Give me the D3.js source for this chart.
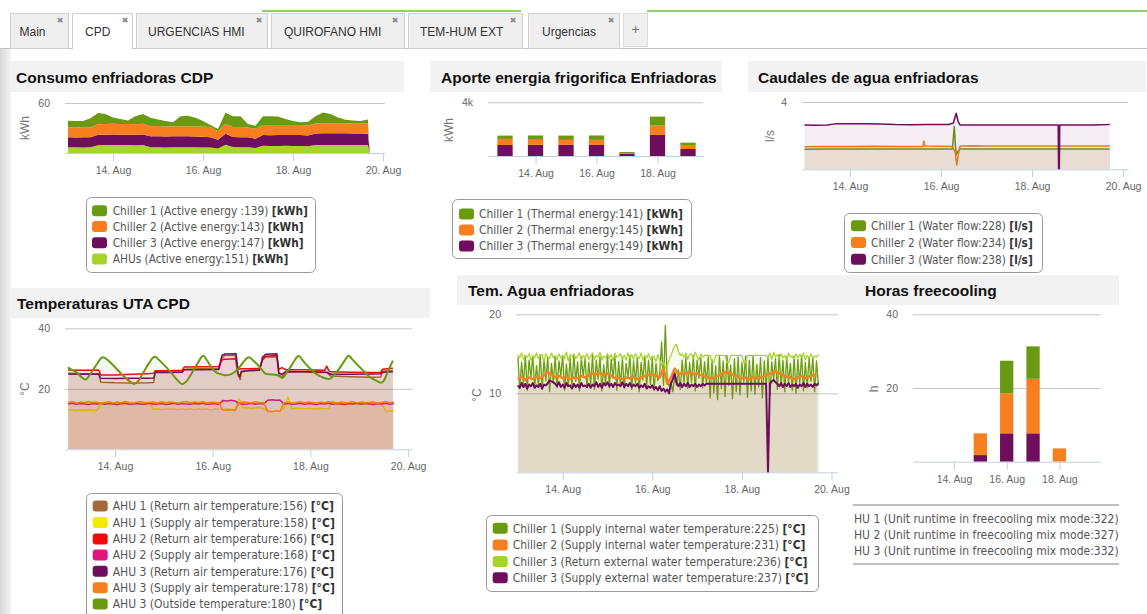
<!DOCTYPE html>
<html><head><meta charset="utf-8">
<script src="https://cdn.jsdelivr.net/npm/d3@7/dist/d3.min.js"></script>
<style>html,body{margin:0;padding:0;background:#fff;overflow:hidden}svg{display:block}</style>
</head><body>
<svg id="c" width="1147" height="614" xmlns="http://www.w3.org/2000/svg"></svg>
<script>
// ================= DATA =================
const tabNames = ["Main", "CPD", "URGENCIAS HMI", "QUIROFANO HMI", "TEM-HUM EXT", "Urgencias"];
const titles = ["Consumo enfriadoras CDP", "Aporte energia frigorifica Enfriadoras", "Caudales de agua enfriadoras",
                "Temperaturas UTA CPD", "Tem. Agua enfriadoras", "Horas freecooling"];
const tickHoursLong = [24, 72, 120, 168];   // 14, 16, 18, 20 Aug (hours after 13 Aug 00:00)
const tickHoursShort = [24, 72, 120];       // 14, 16, 18 Aug

// Consumo enfriadoras CDP (stacked area, kWh), hours after 13 Aug 00:00
const consumoHours = d3.range(0, 161, 4).concat([161, 168]);
const consumoAHUs = [6.8,6.9,6.7,7.0,9.4,9.6,9.7,9.5,9.6,9.4,9.5,6.9,6.8,6.7,6.8,6.9,7.0,6.8,6.7,6.6,5.5,10.0,7.2,7.0,6.9,6.0,8.6,8.4,8.5,8.6,8.4,8.5,8.0,9.5,9.7,9.6,9.5,9.6,9.7,9.5,9.6,0,0];
const consumoC3 = [12.0,11.7,12.2,12.0,12.4,12.4,12.5,12.4,12.4,12.4,12.6,13.1,13.4,13.2,13.2,13.2,13.2,13.0,12.9,12.4,10.5,13.0,12.0,12.0,11.9,11.0,13.0,13.0,13.2,13.0,13.1,13.1,13.0,13.9,14.1,14.0,14.2,14.0,13.8,13.9,13.6,0,0];
const consumoC2 = [12.0,12.1,11.9,12.0,12.8,12.7,12.9,12.8,12.7,12.8,12.9,12.0,12.1,11.9,12.0,12.1,12.0,11.9,12.1,12.0,10.0,12.2,12.0,12.1,11.9,12.0,12.0,12.1,11.9,12.0,12.1,12.0,12.0,12.1,11.9,12.0,12.1,12.0,11.9,12.0,12.1,0,0];
const consumoC1 = [8.0,7.8,7.5,10.6,13.4,12.0,7.4,6.1,4.4,9.4,11.9,10.4,7.8,6.5,4.8,11.9,12.6,10.6,6.8,2.6,2.8,13.0,12.8,13.0,4.0,3.8,10.4,10.6,10.3,7.2,4.9,3.2,4.6,8.6,13.0,11.2,6.7,4.4,3.7,3.0,4.8,0,0];
const consumoLabels = ["Chiller 1 (Active energy :139) ", "Chiller 2 (Active energy:143) ", "Chiller 3 (Active energy:147) ", "AHUs (Active energy:151) "];

// Aporte energia frigorifica (stacked columns, kWh), one per day 13..19 Aug
const aporteDays = [0, 24, 48, 72, 96, 120, 144];
const aporteC1 = [250, 320, 320, 330, 75, 670, 175];
const aporteC2 = [450, 380, 375, 380, 75, 700, 300];
const aporteC3 = [820, 830, 825, 820, 150, 1565, 520];
const aporteLabels = ["Chiller 1 (Thermal energy:141) ", "Chiller 2 (Thermal energy:145) ", "Chiller 3 (Thermal energy:149) "];

// Caudales de agua (l/s) [hour, value]
const flowC1 = [[0,1.19],[12,1.20],[24,1.21],[36,1.21],[48,1.21],[60,1.20],[72,1.21],[78,1.21],[79,2.54],[79.5,1.6],[80,0.85],[81,1.1],[82,1.21],[96,1.21],[110,1.20],[124,1.20],[134,1.20],[144,1.20],[161,1.20]];
const flowC2 = [[0,1.34],[12,1.36],[24,1.35],[36,1.37],[48,1.36],[60,1.36],[62.5,1.36],[63,1.68],[63.5,1.38],[72,1.37],[78,1.36],[79.5,1.0],[80.3,0.26],[81,0.8],[82,1.38],[88,1.40],[96,1.38],[110,1.38],[124,1.38],[134,1.38],[144,1.38],[152,1.38],[161,1.38]];
const flowC3 = [[0,2.63],[6,2.62],[12,2.64],[16,2.70],[24,2.71],[32,2.70],[40,2.69],[48,2.66],[56,2.65],[64,2.66],[72,2.67],[76,2.66],[78.5,2.75],[80,3.33],[81,2.85],[82,2.64],[90,2.63],[100,2.64],[112,2.63],[124,2.63],[133.8,2.63],[134,0],[134.4,0],[134.6,2.63],[144,2.63],[152,2.64],[160,2.66],[161,2.67]];
const flowLabels = ["Chiller 1 (Water flow:228) ", "Chiller 2 (Water flow:234) ", "Chiller 3 (Water flow:238) "];

// Temperaturas UTA CPD (°C)
const retAHU1 = [[1,25.1],[8,25.0],[16,25.0],[17,22.2],[24,22.0],[32,21.9],[40,22.0],[43,22.1],[43.8,25.9],[50,25.8],[57,25.9],[58,26.5],[66,26.6],[75,26.8],[76.5,30.0],[78,31.0],[83,31.0],[84.2,25.0],[85.5,23.0],[86,25.5],[90,26.2],[95,26.4],[96.5,29.5],[98,30.5],[103.5,30.6],[104.5,24.5],[106,24.0],[108,25.5],[115,25.6],[122,25.4],[128,25.4],[130,24.2],[140,24.0],[150,23.8],[154.5,23.9],[155.5,25.9],[160.5,26.0]];
const retAHU2 = [[1,26.2],[8,26.1],[16,26.2],[17,24.6],[24,24.6],[32,24.8],[40,25.0],[43,25.1],[43.8,26.0],[50,26.0],[57,26.1],[58,27.2],[66,27.3],[75,27.4],[76.5,29.5],[78,29.8],[83.5,29.9],[84.5,26.5],[86,26.6],[90,26.6],[95,26.8],[96.5,29.8],[98,30.8],[103.5,31.0],[104.5,26.4],[106,27.0],[108,26.3],[115,26.3],[122,26.2],[127,26.1],[128,27.5],[129,26.0],[130,25.6],[140,25.5],[150,25.4],[154.5,25.5],[155.5,26.5],[160.5,26.8]];
const retAHU3 = [[1,24.9],[8,24.8],[16,24.9],[17,23.5],[24,23.4],[32,23.5],[40,23.5],[43,23.6],[43.8,25.5],[50,25.4],[57,25.5],[58,26.3],[66,26.3],[75,26.4],[76.5,31.0],[78,31.5],[83.5,31.6],[84.5,25.0],[85.3,24.0],[86,25.8],[90,26.0],[95,26.1],[96.5,30.5],[98,31.4],[103.5,31.6],[104.5,25.2],[106,24.8],[108,25.7],[115,25.6],[122,25.6],[128,25.5],[130,24.8],[140,24.8],[150,24.9],[154.5,25.0],[155.5,25.5],[160.5,25.6]];
// supply temperatures, every 2 h starting 13 Aug 01:00
const supAHU1 = [12.9,13.1,12.8,13.0,12.9,13.1,13.0,12.8,15.0,15.2, 14.9,15.1,15.0,14.8,15.2,14.9,15.0,15.1,14.9,15.0, 15.1,13.2,13.4,13.1,13.3,13.2,13.4,13.1,13.3,13.2, 13.4,13.1,13.3,13.2,13.4,13.0,13.3,13.2,13.1,13.4, 13.2,13.3,16.8,13.7,13.8,13.6,13.7,13.8,13.5,12.6, 12.5,12.7,12.6,13.5,17.4,13.4,13.6,13.5,13.4,13.6, 13.5,13.3,13.6,13.4,13.5,15.9,14.9,15.1,15.0,14.9, 15.1,14.8,15.0,15.2,14.9,15.1,15.0,14.9,12.7,12.6,12.8];
const supAHU2 = [15.0,15.2,14.9,15.1,15.0,14.8,15.1,15.0,15.2,14.9, 15.1,15.0,14.8,15.1,15.2,14.9,15.0,15.1,14.9,15.0, 15.2,14.9,15.0,15.1,14.8,15.0,15.2,14.9,15.1,15.0, 14.9,15.1,15.0,15.2,14.9,15.0,15.1,14.8,16.1,16.0, 16.2,16.0,15.1,14.9,15.0,15.2,14.9,15.1,15.0,16.2, 16.4,16.2,16.3,15.0,15.1,14.9,15.0,15.2,14.9,15.1, 15.0,14.8,15.1,15.0,15.2,14.9,15.1,15.0,14.8,15.1, 15.0,15.2,14.9,15.1,15.0,14.8,15.1,15.0,15.2,14.9,15.1];
const supAHU3 = [15.5,15.7,15.3,15.6,15.4,15.8,15.5,15.6,15.2,15.5, 15.7,15.3,15.6,15.4,15.8,15.5,15.3,15.6,15.7,15.4, 15.5,15.6,15.3,15.7,15.4,15.6,15.5,15.3,15.6,15.8, 15.4,15.6,15.5,15.7,15.3,15.6,15.5,15.4,13.0,12.9, 13.1,12.8,15.4,15.6,15.5,15.3,15.7,15.4,15.5,12.6, 12.4,12.7,12.5,15.4,15.6,15.3,15.5,15.7,15.4,15.6, 15.5,15.3,15.6,15.4,15.7,15.5,15.3,15.6,15.4,15.5, 15.7,15.3,15.6,15.4,15.5,15.6,15.3,15.5,15.7,15.4,15.6];
const outsideAHU3 = [[0.8,27.1],[3,26.2],[5,25.5],[7,24.2],[9.5,23.0],[11,24.0],[13,26.0],[15.5,28.6],[17,30.0],[18,30.4],[19.5,30.0],[22,28.5],[24.5,26.8],[27,25.0],[30,23.2],[33.4,21.6],[35.5,22.6],[38,25.5],[41,28.8],[42.5,30.2],[43.7,30.6],[45.5,29.6],[48,28.0],[52,25.0],[54.5,23.0],[57,21.6],[59.5,22.8],[62,25.5],[65,28.9],[66.5,30.5],[67.4,30.9],[69,29.6],[71,27.5],[73,25.8],[75.7,24.9],[78,24.5],[80,24.6],[82.5,25.4],[85,27.0],[88,29.6],[89,30.2],[90,30.4],[91.5,29.6],[94,28.0],[96,26.4],[98,25.0],[100,24.8],[102,24.7],[104,24.4],[106.3,23.6],[108,25.0],[110,27.0],[112.5,29.7],[113.5,30.6],[114.2,30.9],[116,29.6],[118,28.0],[120.5,26.3],[123,24.8],[126,23.8],[129,23.2],[131,24.0],[134,26.5],[136.5,29.0],[138,30.5],[138.8,30.9],[140.5,29.8],[143,28.0],[146,26.0],[149,24.0],[152,22.8],[154.6,22.0],[156,22.6],[157,24.0],[158.5,26.4],[160.5,29.3]];
const tempLabels = ["AHU 1 (Return air temperature:156) ", "AHU 1 (Supply air temperature:158) ", "AHU 2 (Return air temperature:166) ",
                    "AHU 2 (Supply air temperature:168) ", "AHU 3 (Return air temperature:176) ", "AHU 3 (Supply air temperature:178) ", "AHU 3 (Outside temperature:180) "];

// Tem. Agua enfriadoras (°C), hourly from 13 Aug 00:00 (orange every 2 h)
const aguaC1 = [14.6,10.6,13.9,11.2,14.8,10.4,14.2,12.0,14.7,10.8,13.5,11.0,14.9,10.5,14.3,11.6,14.6,10.2,13.8,11.3,
 14.7,10.7,14.1,12.2,14.8,10.4,13.7,11.0,14.5,10.9,14.9,11.5,14.0,10.3,14.6,12.1,14.4,10.8,13.9,11.1,
 14.8,10.5,14.2,11.8,14.6,10.3,13.6,11.2,14.9,10.7,14.3,11.9,14.7,10.4,14.0,11.0,14.5,10.6,13.8,12.0,
 14.8,10.5,14.1,11.3,14.6,10.2,13.9,11.7,14.7,10.8,14.2,11.1,14.5,10.4,13.8,11.6,12.5,16.5,11.0,18.6,
 11.8,10.9,11.5,10.2,12.0,11.0,13.0,10.5,14.2,11.3,14.6,10.6,13.9,11.4,14.8,10.3,14.2,11.9,14.5,10.7,
 14.0,11.2,14.6,9.4,14.3,10.1,13.5,9.2,14.7,10.6,14.1,9.6,14.8,11.0,13.6,9.3,14.4,10.2,14.6,9.8,
 13.9,11.4,14.7,9.5,14.2,10.3,14.8,9.9,13.7,10.8,14.5,9.4,14.1,10.6,14.6,9.7,14.0,11.8,14.4,10.5,
 14.9,10.9,14.2,10.2,14.6,11.4,13.8,10.4,14.7,10.0,14.3,11.2,14.8,10.3,13.9,10.7,14.5,11.5,14.6,10.2,14.1,11.0];
const aguaC2 = [11.8,12.1,11.7,12.0,11.8,12.1,11.9,12.3,12.7,12.4, 12.0,12.2,11.9,12.1,11.8,12.0,11.9,12.2,12.0,12.3,
 12.5,12.4,12.6,12.3,12.5,12.2,11.9,12.0,11.8,12.0, 11.9,12.1,11.8,12.0,12.2,12.3,12.4,12.2,12.0,13.2,
 11.2,12.0,13.1,12.4,12.6,12.5,12.7,12.4,12.5,12.3, 12.1,12.0,11.9,12.1,12.3,12.6,12.7,12.5,12.3,12.1,
 11.9,12.0,11.8,12.1,11.9,12.0,12.2,12.4,12.6,12.8, 12.5,12.3,12.1,12.0,11.8,12.0,12.2,11.9,12.1,12.3,12.2];
const aguaC3Ret = [14.9,14.5,15.1,14.3,14.8,14.6,15.0,14.2,14.8,14.5,15.1,14.4,14.7,14.9,14.0,15.0,14.6,14.4,15.1,14.5,
 14.8,14.3,15.0,14.5,14.7,14.4,15.2,14.1,14.9,14.6,15.0,14.4,14.7,15.1,14.2,14.8,14.5,15.0,14.3,14.7,
 15.1,14.3,14.8,14.6,15.2,14.2,14.7,14.5,15.0,14.4,14.9,14.1,15.1,14.6,14.7,15.0,14.3,14.8,14.2,15.1,
 14.5,14.9,14.3,15.0,14.6,14.4,15.1,14.2,14.8,14.5,15.0,14.3,14.7,14.6,14.0,14.9,14.2,13.5,14.0,13.2,
 13.6,14.2,14.8,15.4,16.0,16.2,15.3,14.8,15.0,14.6,15.1,14.3,14.9,15.0,14.4,15.2,14.7,14.2,15.0,14.6,
 14.8,14.8,14.8,14.8,13.9,13.9,14.8,14.8,14.8,14.8,14.8,14.8,13.9,13.9,14.8,14.8,14.8,14.8,14.8,14.8,
 14.8,13.9,13.9,14.8,14.8,14.8,14.8,14.8,14.8,14.8,14.8,14.8,14.8,14.8,14.5,15.1,14.3,15.2,14.6,14.9,
 14.4,15.0,14.5,14.8,14.2,15.1,14.6,14.7,14.3,15.0,14.5,14.9,14.6,15.1,14.2,14.8,14.5,15.0,14.4,14.7,14.6,14.9];
const aguaC3Sup = [11.0,10.7,11.3,10.8,11.2,10.6,11.1,10.9,11.3,10.7,11.0,10.8,11.2,10.6,11.1,11.0,11.3,11.6,11.5,11.4,
 11.2,10.9,11.4,10.8,11.1,10.7,11.3,10.9,11.0,10.6,11.2,10.8,11.1,10.7,11.3,10.9,11.0,10.8,11.2,10.7,
 11.1,10.9,11.4,10.8,11.2,10.7,11.3,11.0,11.4,10.9,11.2,10.8,11.3,11.0,11.1,10.9,11.4,10.8,11.2,10.9,
 11.3,10.8,11.1,10.9,11.2,10.7,11.0,10.8,11.2,10.6,10.9,10.7,11.0,10.5,10.8,10.4,10.9,10.3,10.6,10.2,
 10.5,10.0,11.2,11.8,12.5,11.4,10.9,11.3,10.8,11.2,10.9,11.3,10.8,11.1,10.9,11.2,10.8,11.1,10.9,11.2,
 11.0,11.2,11.2,11.2,11.2,11.2,11.2,11.2,11.2,11.2,11.2,11.2,11.2,11.2,11.2,11.2,11.2,11.2,11.2,11.2,
 11.2,11.2,11.2,11.2,11.2,11.2,11.2,11.2,11.2,11.2,11.2,11.2,11.2,11.2,0,11.2,11.5,11.7,11.4,11.2,
 10.9,11.3,10.8,11.2,10.9,11.3,10.8,11.1,10.9,11.2,10.7,11.1,10.9,11.3,10.8,11.2,10.9,11.1,10.8,11.2,11.0,11.3];
const aguaLabels = ["Chiller 1 (Supply internal water temperature:225) ", "Chiller 2 (Supply internal water temperature:231) ",
                    "Chiller 3 (Return external water temperature:236) ", "Chiller 3 (Supply external water temperature:237) "];

// Horas freecooling (stacked columns, h), one per day 13..19 Aug
const fcDays = [0, 24, 48, 72, 96, 120, 144];
const fcHU1 = [0, 0, 0, 8.8, 8.8, 0, 0];
const fcHU2 = [0, 0, 5.9, 10.9, 14.8, 3.6, 0];
const fcHU3 = [0, 0, 1.8, 7.7, 7.7, 0, 0];
const fcLabels = ["HU 1 (Unit runtime in freecooling mix mode:322)", "HU 2 (Unit runtime in freecooling mix mode:327)", "HU 3 (Unit runtime in freecooling mix mode:332)"];

// ================= STYLE / HELPERS =================
const SANS = "'Liberation Sans', Arial, Helvetica, sans-serif";
const LEG = "'DejaVu Sans', Verdana, sans-serif";
const COL = {green:"#6a9a12", orange:"#f77f1f", purple:"#6e0e5c", lime:"#a7d42a", brown:"#a5693a", yellow:"#f3ea00", red:"#f00a0a", magenta:"#e0167f"};
const FILL_OP = 0.075;

const svg = d3.select("#c");
const day0 = new Date(2015, 7, 13, 0, 0, 0);
const at = h => new Date(day0.getTime() + h * 36e5);
const fmtDay = d3.timeFormat("%d. %b");

// left shaded strip
const defs = svg.append("defs");
const lg = defs.append("linearGradient").attr("id", "strip");
lg.append("stop").attr("offset", 0).attr("stop-color", "#d6d6d6");
lg.append("stop").attr("offset", 1).attr("stop-color", "#f4f4f4");
svg.append("rect").attr("x", 0).attr("y", 49).attr("width", 11).attr("height", 565).attr("fill", "url(#strip)");

// ---- tab bar ----
const tabLayout = [[10,69,19.5,60],[72,133,85,125],[136,268,148,259],[271,405,284,395],[408,523,420,513],[528,620,542,611]];
svg.append("line").attr("x1", 0).attr("x2", 1147).attr("y1", 48.5).attr("y2", 48.5).attr("stroke", "#c4c4c4");
[[262,521],[647,1147]].forEach(s => svg.append("line").attr("x1", s[0]).attr("x2", s[1]).attr("y1", 11).attr("y2", 11).attr("stroke", "#6cbf3a").attr("stroke-width", 1.5));
tabNames.forEach((name, i) => {
  const [x0, x1, tx, xx] = tabLayout[i];
  const active = i === 1;
  if (active) {
    svg.append("rect").attr("x", x0).attr("y", 13).attr("width", x1 - x0).attr("height", 37).attr("fill", "#fff");
    svg.append("path").attr("d", `M${x0+.5},49V13.5H${x1-.5}V49`).attr("fill", "none").attr("stroke", "#cfcfcf");
  } else {
    svg.append("rect").attr("x", x0 + .5).attr("y", 13.5).attr("width", x1 - x0 - 1).attr("height", 35).attr("fill", "#efefef").attr("stroke", "#d0d0d0");
  }
  svg.append("text").attr("x", tx).attr("y", 35.5).text(name).attr("font-family", SANS).attr("font-size", 12).attr("fill", "#333");
  svg.append("text").attr("x", xx).attr("y", 23).text("✖").attr("font-family", "'DejaVu Sans', sans-serif").attr("font-size", 8).attr("fill", "#8a8a8a").attr("text-anchor", "middle");
});
svg.append("rect").attr("x", 623.5).attr("y", 13.5).attr("width", 24).attr("height", 33).attr("fill", "#efefef").attr("stroke", "#dcdcdc");
svg.append("text").attr("x", 635.5).attr("y", 34).text("+").attr("font-family", SANS).attr("font-size", 14).attr("fill", "#777").attr("text-anchor", "middle");

// ---- panel headers ----
function header(x0, y0, x1, y1, title, tx, ty) {
  svg.append("rect").attr("x", x0).attr("y", y0).attr("width", x1 - x0).attr("height", y1 - y0).attr("fill", "#f2f2f2");
  svg.append("text").attr("x", tx).attr("y", ty).text(title).attr("font-family", SANS).attr("font-weight", "bold").attr("font-size", 15.5).attr("fill", "#111");
}
header(11, 61, 404, 92, titles[0], 16, 83);
header(430, 61, 722, 92, titles[1], 441, 83);
header(748, 61, 1146, 92, titles[2], 758, 83);
header(11, 288, 430, 318, titles[3], 17, 308.5);
header(457, 275, 855, 305, titles[4], 468, 295.5);
header(855, 275, 1119, 305, titles[5], 865, 295.5);

function yGrid(y, left, right, ticks, fmt, axTitle, tcx, tcy) {
  const g = svg.append("g").attr("transform", `translate(${left},0)`)
    .call(d3.axisLeft(y).tickValues(ticks).tickSize(-(right - left)).tickPadding(15).tickFormat(fmt || (d => d)));
  g.select(".domain").remove();
  g.selectAll(".tick line").attr("stroke", "#c6c6c6");
  g.attr("font-family", SANS).attr("font-size", 10.5);
  g.selectAll(".tick text").attr("fill", "#666");
  svg.append("text").attr("transform", `translate(${tcx},${tcy}) rotate(-90)`).attr("dy", "0.35em")
    .attr("text-anchor", "middle").text(axTitle).attr("font-family", SANS).attr("font-size", 12).attr("fill", "#777");
}
function xAxis(x, base, ticks) {
  const g = svg.append("g").attr("transform", `translate(0,${base})`)
    .call(d3.axisBottom(x).tickValues(ticks.map(at)).tickFormat(fmtDay).tickSize(8).tickSizeOuter(0).tickPadding(5.5));
  g.attr("font-family", SANS).attr("font-size", 10.5);
  g.select(".domain").attr("stroke", "#c0d0e0");
  g.selectAll(".tick line").attr("stroke", "#c0d0e0");
  g.selectAll(".tick text").attr("fill", "#666");
}
function areaLine(x, y, pts, color, lw, curve) {
  const g = svg.append("g");
  const cv = curve || d3.curveLinear;
  g.append("path").datum(pts).attr("d", d3.area().curve(cv).x(d => x(at(d[0]))).y0(y(0)).y1(d => y(d[1])))
    .attr("fill", color).attr("fill-opacity", FILL_OP);
  g.append("path").datum(pts).attr("d", d3.line().curve(cv).x(d => x(at(d[0]))).y(d => y(d[1])))
    .attr("fill", "none").attr("stroke", color).attr("stroke-width", lw).attr("stroke-linejoin", "round");
}
const everyHour = (vals, step, off) => vals.map((v, i) => [off + i * step, v]);

function legend(o) {
  const g = svg.append("g");
  if (o.box) g.append("rect").attr("x", o.box[0] + .5).attr("y", o.box[1] + .5).attr("width", o.box[2] - o.box[0])
      .attr("height", o.box[3] - o.box[1]).attr("rx", 5).attr("fill", "#fff").attr("stroke", "#9a9a9a");
  let k = 1;
  o.labels.forEach((lab, i) => {
    if (o.colors) g.append("rect").attr("x", o.symX).attr("y", o.rows[i] - 5.5).attr("width", 15).attr("height", 11).attr("rx", 3).attr("fill", o.colors[i]);
    const t = g.append("text").attr("font-family", LEG).attr("font-size", 12).attr("fill", "#555");
    t.append("tspan").text(lab);
    if (o.unit) t.append("tspan").attr("font-weight", "bold").attr("fill", "#333").text(o.unit);
    if (i === 0) k = o.target / t.node().getComputedTextLength();
    t.attr("transform", `translate(${o.textX},${o.rows[i] + 4.3}) scale(${k},1)`);
  });
  return g;
}

// ================= CHART 1: Consumo =================
{
  const x = d3.scaleTime().domain([at(-1.6), at(169.1)]).range([65, 385]);
  const y = d3.scaleLinear().domain([0, 60]).range([153, 103]);
  yGrid(y, 65, 385, [60], null, "kWh", 25, 128);
  const rows = consumoHours.map((h, i) => ({h, ahu: consumoAHUs[i], c3: consumoC3[i], c2: consumoC2[i], c1: consumoC1[i]}));
  const keys = ["ahu", "c3", "c2", "c1"], cols = [COL.lime, COL.purple, COL.orange, COL.green];
  const st = d3.stack().keys(keys)(rows);
  const ar = d3.area().x(d => x(at(d.data.h))).y0(d => y(d[0])).y1(d => y(d[1]));
  st.forEach((s, i) => svg.append("path").datum(s).attr("d", ar).attr("fill", cols[i]));
  xAxis(x, 153, tickHoursLong);
  legend({box: [86, 197, 315, 272], rows: [210.7, 226.5, 242.7, 259], symX: 92, textX: 112.7, target: 195.3,
          labels: consumoLabels, unit: "[kWh]", colors: [COL.green, COL.orange, COL.purple, COL.lime]});
}

// ================= CHART 2: Aporte =================
{
  const x = d3.scaleTime().domain([at(-13.4), at(155.8)]).range([488, 703]);
  const y = d3.scaleLinear().domain([0, 4000]).range([156, 102.3]);
  yGrid(y, 488, 703, [4000], d => d / 1000 + "k", "kWh", 449, 130);
  const rows = aporteDays.map((h, i) => ({h, c3: aporteC3[i], c2: aporteC2[i], c1: aporteC1[i]}));
  const st = d3.stack().keys(["c3", "c2", "c1"])(rows);
  const cols = [COL.purple, COL.orange, COL.green], bw = 15.3;
  st.forEach((s, i) => svg.append("g").selectAll("rect").data(s).join("rect")
    .attr("x", d => x(at(d.data.h)) - bw / 2).attr("width", bw)
    .attr("y", d => y(d[1])).attr("height", d => y(d[0]) - y(d[1])).attr("fill", cols[i]));
  xAxis(x, 156, tickHoursShort);
  legend({box: [452, 199, 691, 258], rows: [214, 230, 246], symX: 459, textX: 479, target: 204.3,
          labels: aporteLabels, unit: "[kWh]", colors: [COL.green, COL.orange, COL.purple]});
}

// ================= CHART 3: Caudales =================
{
  const x = d3.scaleTime().domain([at(-1.3), at(170.6)]).range([802, 1128]);
  const y = d3.scaleLinear().domain([0, 4]).range([169.3, 102]);
  yGrid(y, 802, 1128, [4], null, "l/s", 770, 136);
  areaLine(x, y, flowC1, COL.green, 1.5);
  areaLine(x, y, flowC2, COL.orange, 1.5);
  areaLine(x, y, flowC3, COL.purple, 1.5);
  xAxis(x, 169.3, tickHoursLong);
  legend({box: [844, 213, 1042, 272], rows: [225.7, 242.5, 259.3], symX: 851, textX: 871, target: 162,
          labels: flowLabels, unit: "[l/s]", colors: [COL.green, COL.orange, COL.purple]});
}

// ================= CHART 4: Temperaturas UTA =================
{
  const x = d3.scaleTime().domain([at(-0.56), at(169.9)]).range([65, 412]);
  const y = d3.scaleLinear().domain([0, 40]).range([449.3, 328.3]);
  yGrid(y, 65, 412, [20, 40], null, "°C", 25, 389);
  areaLine(x, y, retAHU1, COL.brown, 1.5);
  areaLine(x, y, everyHour(supAHU1, 2, 1), COL.yellow, 1.5);
  areaLine(x, y, retAHU2, COL.red, 1.5);
  areaLine(x, y, everyHour(supAHU2, 2, 1), COL.magenta, 1.5);
  areaLine(x, y, retAHU3, COL.purple, 1.5);
  areaLine(x, y, everyHour(supAHU3, 2, 1), COL.orange, 1.5);
  areaLine(x, y, outsideAHU3, COL.green, 2, d3.curveMonotoneX);
  xAxis(x, 449.3, tickHoursLong);
  legend({box: [86, 493, 342, 640], rows: [506, 522.5, 539, 555, 571.3, 587.7, 604], symX: 92.7, textX: 112.7, target: 221.6,
          labels: tempLabels, unit: "[°C]", colors: [COL.brown, COL.yellow, COL.red, COL.magenta, COL.purple, COL.orange, COL.green]});
}

// ================= CHART 5: Tem. Agua =================
{
  const x = d3.scaleTime().domain([at(-1), at(171.5)]).range([516, 838]);
  const y = d3.scaleLinear().domain([0, 20]).range([472.3, 314.3]);
  yGrid(y, 516, 838, [10, 20], null, "°C", 477, 395);
  areaLine(x, y, everyHour(aguaC1, 1, 0), COL.green, 1.3);
  areaLine(x, y, everyHour(aguaC2, 2, 0), COL.orange, 2.5);
  areaLine(x, y, everyHour(aguaC3Ret, 1, 0), COL.lime, 1.3);
  areaLine(x, y, everyHour(aguaC3Sup, 1, 0), COL.purple, 2);
  xAxis(x, 472.3, tickHoursLong);
  legend({box: [486, 515, 818, 591], rows: [528.3, 545, 561.5, 577.7], symX: 492.7, textX: 512.7, target: 293,
          labels: aguaLabels, unit: "[°C]", colors: [COL.green, COL.orange, COL.lime, COL.purple]});
}

// ================= CHART 6: Horas freecooling =================
{
  const x = d3.scaleTime().domain([at(-13.3), at(157.6)]).range([913, 1100.7]);
  const y = d3.scaleLinear().domain([0, 40]).range([461.7, 314.3]);
  yGrid(y, 913, 1100.7, [20, 40], null, "h", 874, 389);
  const rows = fcDays.map((h, i) => ({h, a3: fcHU3[i], a2: fcHU2[i], a1: fcHU1[i]}));
  const st = d3.stack().keys(["a3", "a2", "a1"])(rows);
  const cols = [COL.purple, COL.orange, COL.green], bw = 13.3;
  st.forEach((s, i) => svg.append("g").selectAll("rect").data(s.filter(d => d[1] > d[0])).join("rect")
    .attr("x", d => x(at(d.data.h)) - bw / 2).attr("width", bw)
    .attr("y", d => y(d[1])).attr("height", d => y(d[0]) - y(d[1])).attr("fill", cols[i]));
  xAxis(x, 461.7, tickHoursShort);
  defs.append("clipPath").attr("id", "fcclip").append("rect").attr("x", 853).attr("y", 490).attr("width", 266).attr("height", 90);
  const lgG = svg.append("g").attr("clip-path", "url(#fcclip)");
  [505, 564].forEach(yy => lgG.append("line").attr("x1", 850).attr("x2", 1125).attr("y1", yy).attr("y2", yy).attr("stroke", "#a8a8a8").attr("stroke-width", 1.5));
  let k = 1;
  fcLabels.forEach((lab, i) => {
    const t = lgG.append("text").attr("font-family", LEG).attr("font-size", 12).attr("fill", "#555").text(lab);
    if (i === 0) k = 265 / t.node().getComputedTextLength();
    t.attr("transform", `translate(854,${[519, 535, 551][i] + 4.3}) scale(${k},1)`);
  });
}
</script>
</body></html>
